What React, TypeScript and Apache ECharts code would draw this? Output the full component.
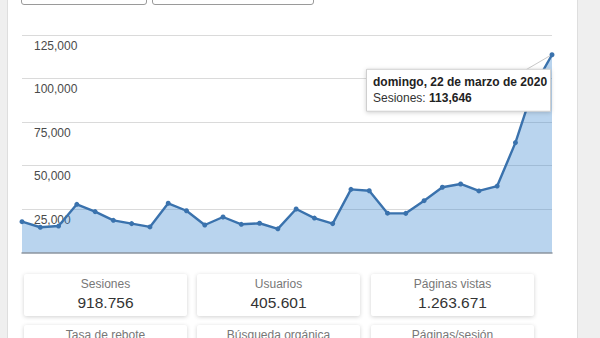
import React, { useEffect, useRef } from 'react';
import * as echarts from 'echarts';

const dates = [
  '22/02/2020', '23/02/2020', '24/02/2020', '25/02/2020', '26/02/2020', '27/02/2020',
  '28/02/2020', '29/02/2020', '01/03/2020', '02/03/2020', '03/03/2020', '04/03/2020',
  '05/03/2020', '06/03/2020', '07/03/2020', '08/03/2020', '09/03/2020', '10/03/2020',
  '11/03/2020', '12/03/2020', '13/03/2020', '14/03/2020', '15/03/2020', '16/03/2020',
  '17/03/2020', '18/03/2020', '19/03/2020', '20/03/2020', '21/03/2020', '22/03/2020',
];
const sessions = [
  17600, 14400, 15100, 27600, 23400, 18400, 16500, 14600, 28200, 23900,
  15700, 20300, 16100, 16700, 13500, 24900, 19700, 16500, 36200, 35400,
  22500, 22400, 29700, 37400, 39300, 35300, 38100, 63100, 95000, 113646,
];
const yMin = 0;
const yMax = 125000;
const yStep = 25000;
const seriesName = 'Sesiones';
const tooltipTitle = 'domingo, 22 de marzo de 2020';
const cardTitles = ['Sesiones', 'Usuarios', 'Páginas vistas'];
const cardValues = ['918.756', '405.601', '1.263.671'];
const cardTitles2 = ['Tasa de rebote', 'Búsqueda orgánica', 'Páginas/sesión'];

const FONT = '"Liberation Sans", Arial, Helvetica, sans-serif';

export default function App() {
  const ref = useRef<HTMLDivElement>(null);
  useEffect(() => {
    const chart = echarts.init(ref.current!, null, { renderer: 'svg' });
    chart.setOption({
      animation: false,
      grid: { left: 22, top: 35, width: 530, height: 217.3 },
      xAxis: {
        type: 'category',
        data: dates,
        boundaryGap: false,
        z: 1,
        axisLine: { lineStyle: { color: '#8d97a1', width: 1.5 } },
        axisTick: { show: false },
        axisLabel: { show: false },
        splitLine: { show: false },
      },
      yAxis: {
        type: 'value',
        min: yMin,
        max: yMax,
        interval: yStep,
        axisLine: { show: false },
        axisTick: { show: false },
        splitLine: { lineStyle: { color: '#dadada', width: 1 } },
        axisLabel: {
          inside: true,
          verticalAlign: 'top',
          padding: [5, 0, 0, 4],
          color: '#4a4a4a',
          fontSize: 12,
          fontFamily: FONT,
          formatter: (v: number) => (v === 0 ? '' : v.toLocaleString('en-US')),
        },
      },
      series: [
        {
          name: seriesName,
          type: 'line',
          data: sessions,
          symbol: 'circle',
          symbolSize: 5,
          showAllSymbol: true,
          lineStyle: { color: '#3a72ad', width: 2.4 },
          itemStyle: { color: '#3a72ad' },
          areaStyle: { color: 'rgba(55,132,206,0.35)', opacity: 1 },
        },
      ],
    });
    const i = sessions.length - 1;
    const p = chart.convertToPixel({ gridIndex: 0 }, [i, sessions[i]]) as number[];
    const px = p[0];
    const py = p[1];
    chart.setOption({
      graphic: [
        {
          type: 'line',
          z: 100,
          shape: { x1: px - 26, y1: py + 15, x2: px - 2, y2: py + 1 },
          style: { stroke: '#c8c8c8', lineWidth: 1 },
        },
        {
          type: 'rect',
          z: 100,
          shape: { x: px - 185.5, y: py + 14.5, width: 184, height: 42 },
          style: {
            fill: '#ffffff',
            stroke: '#cfcfcf',
            lineWidth: 1,
            shadowBlur: 4,
            shadowColor: 'rgba(0,0,0,0.18)',
            shadowOffsetY: 1,
          },
        },
        {
          type: 'text',
          z: 101,
          style: {
            x: px - 179,
            y: py + 21,
            text: tooltipTitle,
            font: `bold 12px ${FONT}`,
            fill: '#222',
          },
        },
        {
          type: 'text',
          z: 101,
          style: {
            x: px - 179,
            y: py + 37,
            text: `{a|${seriesName}: }{b|${sessions[i].toLocaleString('en-US')}}`,
            rich: {
              a: { fontSize: 12, fontFamily: FONT, fill: '#333', color: '#333' },
              b: { fontSize: 12, fontFamily: FONT, fontWeight: 'bold', fill: '#222', color: '#222' },
            },
          },
        },
      ],
    });
    return () => chart.dispose();
  }, []);

  const cardLefts = [24, 197, 371];
  return (
    <div
      style={{
        position: 'fixed',
        left: 0,
        top: 0,
        width: 600,
        height: 338,
        overflow: 'hidden',
        background: '#efefef',
        fontFamily: FONT,
      }}
    >
      <div
        style={{
          position: 'absolute',
          left: 7,
          top: -2,
          width: 569,
          height: 342,
          background: '#fff',
          borderLeft: '1px solid #dedede',
          borderRight: '1px solid #dedede',
        }}
      />
      <div
        style={{
          position: 'absolute',
          left: 21,
          top: -20,
          width: 124,
          height: 23,
          border: '1px solid #9a9a9a',
          borderRadius: 3,
          background: '#fff',
        }}
      />
      <div
        style={{
          position: 'absolute',
          left: 152,
          top: -20,
          width: 160,
          height: 23,
          border: '1px solid #9a9a9a',
          borderRadius: 3,
          background: '#fff',
        }}
      />
      <div ref={ref} style={{ position: 'absolute', left: 0, top: 0, width: 600, height: 262 }} />
      {cardTitles.map((t, k) => (
        <div
          key={t}
          style={{
            position: 'absolute',
            left: cardLefts[k],
            top: 274,
            width: 163,
            height: 42,
            background: '#fff',
            boxShadow: '0 1px 4px rgba(0,0,0,0.18)',
            borderRadius: 2,
            textAlign: 'center',
          }}
        >
          <div style={{ fontSize: 12, color: '#777', marginTop: 3, lineHeight: '14px' }}>{t}</div>
          <div style={{ fontSize: 15.5, color: '#333', marginTop: 3, lineHeight: '18px' }}>{cardValues[k]}</div>
        </div>
      ))}
      {cardTitles2.map((t, k) => (
        <div
          key={t}
          style={{
            position: 'absolute',
            left: cardLefts[k],
            top: 325,
            width: 163,
            height: 42,
            background: '#fff',
            boxShadow: '0 1px 4px rgba(0,0,0,0.18)',
            borderRadius: 2,
            textAlign: 'center',
          }}
        >
          <div style={{ fontSize: 12, color: '#777', marginTop: 3, lineHeight: '14px' }}>{t}</div>
        </div>
      ))}
    </div>
  );
}
